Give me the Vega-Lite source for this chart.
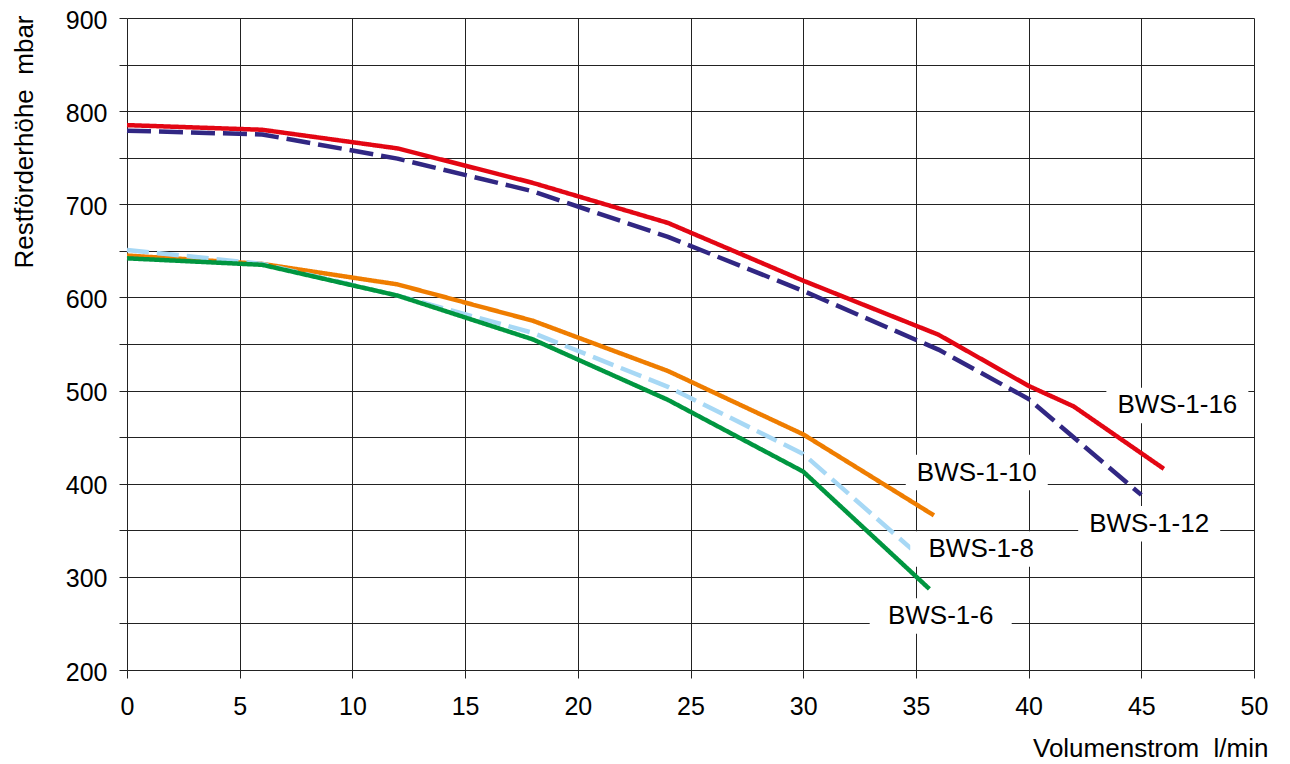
{
  "$schema": "https://vega.github.io/schema/vega-lite/v6.json",
  "width": 1127,
  "height": 652,
  "autosize": "none",
  "padding": {"left": 127, "top": 18, "right": 36, "bottom": 94},
  "background": "white",
  "config": {"view": {"stroke": null}, "font": "Liberation Sans"},
  "datasets": {
    "curves": [
      {"series": "BWS-1-16", "q": 0, "p": 785},
      {"series": "BWS-1-16", "q": 6, "p": 780},
      {"series": "BWS-1-16", "q": 12, "p": 760},
      {"series": "BWS-1-16", "q": 18, "p": 723},
      {"series": "BWS-1-16", "q": 24, "p": 680},
      {"series": "BWS-1-16", "q": 30, "p": 618},
      {"series": "BWS-1-16", "q": 36, "p": 560},
      {"series": "BWS-1-16", "q": 40, "p": 505},
      {"series": "BWS-1-16", "q": 42, "p": 483},
      {"series": "BWS-1-16", "q": 46, "p": 416},
      {"series": "BWS-1-12", "q": 0, "p": 779},
      {"series": "BWS-1-12", "q": 6, "p": 775},
      {"series": "BWS-1-12", "q": 12, "p": 749},
      {"series": "BWS-1-12", "q": 18, "p": 714},
      {"series": "BWS-1-12", "q": 24, "p": 665},
      {"series": "BWS-1-12", "q": 30, "p": 607},
      {"series": "BWS-1-12", "q": 36, "p": 544},
      {"series": "BWS-1-12", "q": 40, "p": 491},
      {"series": "BWS-1-12", "q": 45, "p": 388},
      {"series": "BWS-1-10", "q": 0, "p": 645},
      {"series": "BWS-1-10", "q": 6, "p": 636},
      {"series": "BWS-1-10", "q": 12, "p": 614},
      {"series": "BWS-1-10", "q": 18, "p": 575},
      {"series": "BWS-1-10", "q": 24, "p": 521},
      {"series": "BWS-1-10", "q": 30, "p": 453},
      {"series": "BWS-1-10", "q": 35.8, "p": 366},
      {"series": "BWS-1-8", "q": 0, "p": 651},
      {"series": "BWS-1-8", "q": 6, "p": 636},
      {"series": "BWS-1-8", "q": 12, "p": 602},
      {"series": "BWS-1-8", "q": 18, "p": 562},
      {"series": "BWS-1-8", "q": 24, "p": 504},
      {"series": "BWS-1-8", "q": 30, "p": 432},
      {"series": "BWS-1-8", "q": 34.8, "p": 330},
      {"series": "BWS-1-6", "q": 0, "p": 642},
      {"series": "BWS-1-6", "q": 6, "p": 635},
      {"series": "BWS-1-6", "q": 12, "p": 602},
      {"series": "BWS-1-6", "q": 18, "p": 555},
      {"series": "BWS-1-6", "q": 24, "p": 490},
      {"series": "BWS-1-6", "q": 30, "p": 413},
      {"series": "BWS-1-6", "q": 35.6, "p": 287}
    ],
    "labels": [
      {"label": "BWS-1-16", "q": 46.6, "p": 484},
      {"label": "BWS-1-12", "q": 45.35, "p": 357},
      {"label": "BWS-1-10", "q": 37.7, "p": 412},
      {"label": "BWS-1-8", "q": 37.9, "p": 330},
      {"label": "BWS-1-6", "q": 36.1, "p": 258}
    ]
  },
  "layer": [
    {
      "data": {"name": "curves"},
      "mark": {"type": "line", "strokeWidth": 4.5, "strokeCap": "butt", "strokeJoin": "round"},
      "encoding": {
        "x": {
          "field": "q", "type": "quantitative",
          "scale": {"domain": [0, 50], "nice": false, "zero": false},
          "axis": {
            "values": [0, 5, 10, 15, 20, 25, 30, 35, 40, 45, 50],
            "grid": true, "gridColor": "#222", "gridOpacity": 1,
            "tickColor": "#222", "tickSize": 8, "domain": false,
            "labelFontSize": 25, "labelPadding": 16, "labelColor": "black", "labelFlush": false,
            "title": "Volumenstrom\u00a0 l/min", "titleFontSize": 26, "titleFontWeight": "normal",
            "titleColor": "black", "titleAlign": "right", "titleBaseline": "alphabetic",
            "titleX": 1141, "titleY": 86
          }
        },
        "y": {
          "field": "p", "type": "quantitative",
          "scale": {"domain": [200, 900], "nice": false, "zero": false},
          "axis": {
            "values": [200, 250, 300, 350, 400, 450, 500, 550, 600, 650, 700, 750, 800, 850, 900],
            "labelExpr": "datum.value % 100 === 0 ? datum.label : ''",
            "grid": true, "gridColor": "#222", "gridOpacity": 1,
            "tickColor": "#222", "tickSize": 8, "domain": false,
            "labelFontSize": 25, "labelPadding": 12, "labelColor": "black", "labelFlush": false,
            "labelOffset": 2,
            "title": "Restförderhöhe\u00a0 mbar", "titleFontSize": 26, "titleFontWeight": "normal",
            "titleColor": "black", "titleAngle": -90, "titleAlign": "right", "titleBaseline": "alphabetic",
            "titleX": -95, "titleY": -3
          }
        },
        "color": {
          "field": "series", "type": "nominal", "legend": null,
          "scale": {
            "domain": ["BWS-1-16", "BWS-1-12", "BWS-1-10", "BWS-1-8", "BWS-1-6"],
            "range": ["#e30613", "#312783", "#ef7d00", "#a7d8f5", "#009640"]
          }
        },
        "strokeDash": {
          "field": "series", "type": "nominal", "legend": null,
          "scale": {
            "domain": ["BWS-1-16", "BWS-1-12", "BWS-1-10", "BWS-1-8", "BWS-1-6"],
            "range": [[1, 0], [24, 8], [1, 0], [22, 8], [1, 0]]
          }
        }
      }
    },
    {
      "data": {"name": "labels"},
      "mark": {"type": "point", "shape": "M-1,-0.25H1V0.25H-1Z", "filled": true, "fill": "white", "opacity": 1, "size": 20164, "strokeWidth": 0},
      "encoding": {
        "x": {"field": "q", "type": "quantitative"},
        "y": {"field": "p", "type": "quantitative"}
      }
    },
    {
      "data": {"name": "labels"},
      "mark": {"type": "text", "fontSize": 26, "font": "Liberation Sans", "color": "black", "align": "center", "baseline": "middle"},
      "encoding": {
        "x": {"field": "q", "type": "quantitative"},
        "y": {"field": "p", "type": "quantitative"},
        "text": {"field": "label"}
      }
    }
  ]
}
